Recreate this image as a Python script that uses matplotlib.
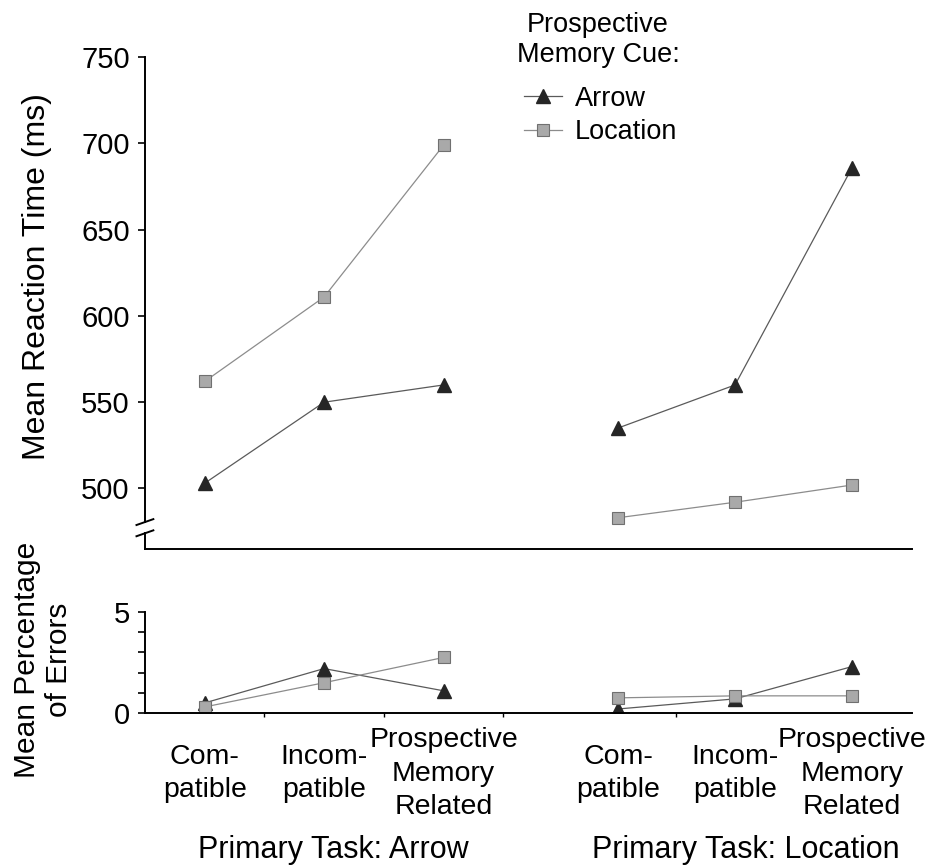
import matplotlib.pyplot as plt

plt.rcParams['font.family'] = ['Liberation Sans', 'DejaVu Sans']

# Data
categories = ['Com-\npatible', 'Incom-\npatible', 'Prospective\nMemory\nRelated']
groups = ['Primary Task: Arrow', 'Primary Task: Location']
rt_arrow = [503, 550, 560, 535, 560, 686]
rt_location = [562, 611, 699, 483, 492, 502]
err_arrow = [0.5, 2.2, 1.1, 0.2, 0.7, 2.3]
err_location = [0.3, 1.5, 2.75, 0.75, 0.85, 0.85]

xpos = [0, 1, 2, 3.46, 4.44, 5.42]
xlim = (-0.5, 5.92)

fig = plt.figure(figsize=(9.41, 8.67), dpi=100)
ax1 = fig.add_axes([0.154, 0.367, 0.815, 0.567])
ax2 = fig.add_axes([0.154, 0.1776, 0.815, 0.1165])

tri = dict(marker='^', color='#5a5a5a', lw=0.9, ms=9.5,
           mfc='#262626', mec='#262626')
sq = dict(marker='s', color='#8c8c8c', lw=0.9, ms=8.5,
          mfc='#a9a9a9', mec='#707070', mew=0.8)

for ax, a, l in [(ax1, rt_arrow, rt_location), (ax2, err_arrow, err_location)]:
    for s in (slice(0, 3), slice(3, 6)):
        ax.plot(xpos[s], a[s], **tri, label='Arrow' if s.start == 0 else None)
        ax.plot(xpos[s], l[s], **sq, label='Location' if s.start == 0 else None)
    ax.set_xlim(*xlim)
    ax.spines['top'].set_visible(False)
    ax.spines['right'].set_visible(False)
    ax.spines['left'].set_linewidth(1.4)
    ax.spines['bottom'].set_linewidth(1.4)
    ax.tick_params(axis='y', direction='out', length=5, width=1.2,
                   labelsize=21, pad=6)

# Upper panel
ax1.set_ylim(465, 750)
ax1.set_yticks([500, 550, 600, 650, 700, 750])
ax1.set_xticks([])
ax1.spines['left'].set_bounds(480.5, 750)
kw = dict(transform=ax1.transAxes, color='black', lw=1.4, clip_on=False)
ax1.plot([0, 0], [0, (474 - 465) / 285], **kw)
ax1.plot([-0.011, 0.011], [(480.5 - 465) / 285 - 0.006, (480.5 - 465) / 285 + 0.006], **kw)
ax1.plot([-0.011, 0.011], [(474 - 465) / 285 - 0.006, (474 - 465) / 285 + 0.006], **kw)

leg = ax1.legend(frameon=False, fontsize=19.5, loc='center left',
                 bbox_to_anchor=(0.462, 0.8815),
                 handlelength=1.4, handletextpad=0.5, labelspacing=0.28)
fig.text(598 / 941, 1 - 40 / 867, 'Prospective\nMemory Cue:', ha='center',
         va='center', multialignment='center', fontsize=19.5, linespacing=1.15)

# Lower panel
ax2.set_ylim(0, 5)
ax2.set_yticks([0, 1, 2, 3, 4, 5])
ax2.set_yticklabels(['0', '', '', '', '', '5'])
ax2.set_xticks([0.5, 1.5, 2.5, 3.95])
ax2.set_xticklabels([])
ax2.tick_params(axis='x', direction='out', length=3, width=1.0)

for i, x in enumerate(xpos):
    ax2.text(x, -0.6, categories[i % 3], transform=ax2.get_xaxis_transform(),
             ha='center', va='center', fontsize=20.5, linespacing=1.36)
for g, x in zip(groups, [1.08, 4.53]):
    ax2.text(x, -1.36, g, transform=ax2.get_xaxis_transform(),
             ha='center', va='center', fontsize=22)

fig.text(37 / 941, 1 - 277 / 867, 'Mean Reaction Time (ms)', rotation=90,
         ha='center', va='center', fontsize=23)
fig.text(43 / 941, 1 - 660 / 867, 'Mean Percentage\nof Errors', rotation=90,
         ha='center', va='center', multialignment='center', fontsize=21.5,
         linespacing=1.15)

plt.savefig('out.png', dpi=100)
